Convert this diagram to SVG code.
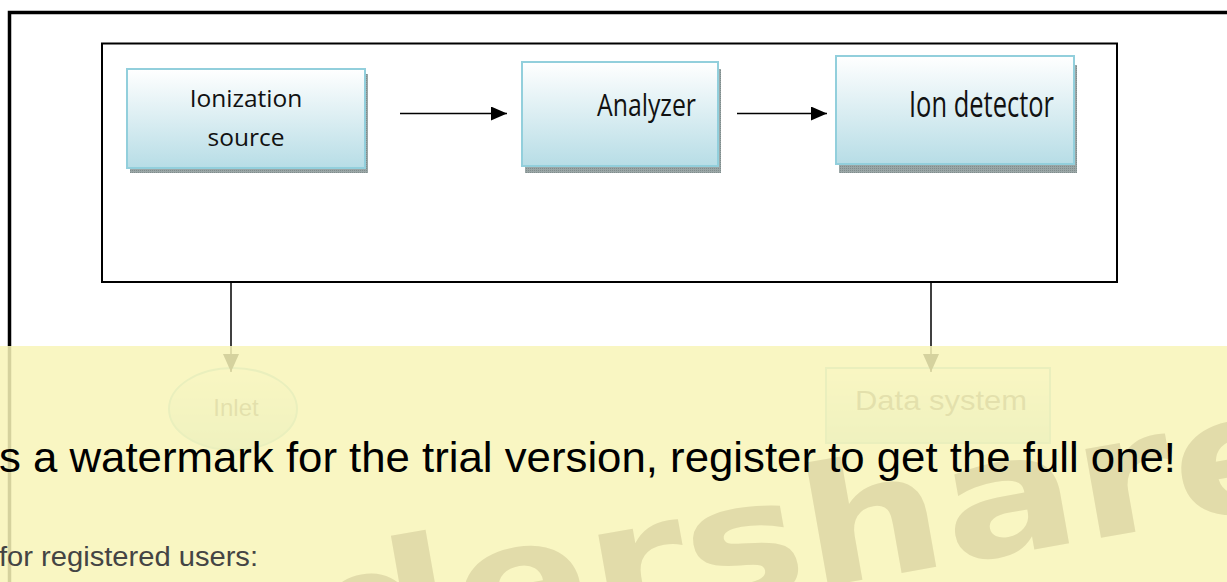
<svg xmlns="http://www.w3.org/2000/svg" width="1227" height="582" viewBox="0 0 1227 582">
  <defs>
    <linearGradient id="boxGrad" x1="0" y1="0" x2="0" y2="1">
      <stop offset="0" stop-color="#ffffff"/>
      <stop offset="0.35" stop-color="#e6f3f6"/>
      <stop offset="1" stop-color="#b7dde6"/>
    </linearGradient>
    <pattern id="dots" width="2" height="2" patternUnits="userSpaceOnUse">
      <rect width="2" height="2" fill="#9aa6a6"/>
      <rect width="1" height="1" fill="#7f8c8c"/>
    </pattern>
    <marker id="arrow" viewBox="0 0 16 14" refX="16" refY="7" markerWidth="16" markerHeight="14" markerUnits="userSpaceOnUse" orient="auto">
      <path d="M0,0 L16,7 L0,14 Z" fill="#000"/>
    </marker>
    <marker id="arrowDown" viewBox="0 0 18 16" refX="18" refY="8" markerWidth="18" markerHeight="16" markerUnits="userSpaceOnUse" orient="auto">
      <path d="M0,0 L18,8 L0,16 Z" fill="#000"/>
    </marker>
  </defs>
  <style>
    .box { fill: url(#boxGrad); stroke: #92cfdc; stroke-width: 2; }
    .shadow { fill: url(#dots); }
    .lbl { font-family: "Open Sans", "Noto Sans", sans-serif; fill: #111; }
    .frame { fill: none; stroke: #000; }
    .conn { stroke: #000; stroke-width: 1.5; fill: none; }
    .wm { font-family: "Liberation Sans", Arial, sans-serif; }
  </style>

  <rect width="1227" height="582" fill="#ffffff"/>

  <!-- outer frame -->
  <path class="frame" d="M1240,12.5 L9.5,12.5 L9.5,600" stroke-width="3.5"/>
  <!-- inner frame -->
  <rect class="frame" x="102" y="43.5" width="1015" height="238.5" stroke-width="2"/>

  <g id="ionization-source">
    <rect class="shadow" x="130" y="74" width="238" height="99"/>
    <rect class="box" x="127" y="69" width="238" height="99"/>
    <text class="lbl" x="246" y="107" font-size="24.5" text-anchor="middle">Ionization</text>
    <text class="lbl" x="246" y="146" font-size="24.5" text-anchor="middle">source</text>
  </g>

  <g id="analyzer">
    <rect class="shadow" x="525" y="69" width="196" height="104"/>
    <rect class="box" x="522" y="62" width="196" height="104"/>
    <text class="lbl" x="597" y="116" font-size="31" textLength="99" lengthAdjust="spacingAndGlyphs">Analyzer</text>
  </g>

  <g id="ion-detector">
    <rect class="shadow" x="839" y="65" width="238" height="108"/>
    <rect class="box" x="836" y="56" width="238" height="108"/>
    <text class="lbl" x="909" y="117" font-size="37" textLength="145" lengthAdjust="spacingAndGlyphs">Ion detector</text>
  </g>

  <g id="inlet">
    <ellipse cx="233" cy="409" rx="64" ry="41" fill="url(#boxGrad)" stroke="#92cfdc" stroke-width="2"/>
    <text class="wm" x="236" y="416" font-size="24" text-anchor="middle" fill="#666">Inlet</text>
  </g>

  <g id="data-system">
    <rect x="826" y="368" width="224" height="75" fill="url(#boxGrad)" stroke="#92cfdc" stroke-width="2"/>
    <text class="wm" x="855" y="410" font-size="28" fill="#666" textLength="172" lengthAdjust="spacingAndGlyphs">Data system</text>
  </g>

  <g id="connectors">
    <line class="conn" x1="400" y1="113.5" x2="507" y2="113.5" marker-end="url(#arrow)"/>
    <line class="conn" x1="737" y1="113.5" x2="827" y2="113.5" marker-end="url(#arrow)"/>
    <line class="conn" x1="231" y1="282" x2="231" y2="372" marker-end="url(#arrowDown)"/>
    <line class="conn" x1="931" y1="282" x2="931" y2="372" marker-end="url(#arrowDown)"/>
  </g>

  <!-- trial watermark overlay -->
  <rect x="0" y="346" width="1227" height="236" fill="#f8f5b8" opacity="0.86"/>
  <g transform="rotate(-10 1315 500)">
    <text x="1315" y="500" font-family="DejaVu Sans, sans-serif" font-weight="bold" font-size="165" fill="#e2dcaa" text-anchor="end" textLength="1500" lengthAdjust="spacingAndGlyphs">Wondershare</text>
  </g>
  <text class="wm" x="-1" y="472" font-size="43" fill="#000" textLength="1177" lengthAdjust="spacingAndGlyphs">s a watermark for the trial version, register to get the full one!</text>
  <text class="wm" x="-1" y="566" font-size="27" fill="#444" textLength="259" lengthAdjust="spacingAndGlyphs">for registered users:</text>
</svg>
